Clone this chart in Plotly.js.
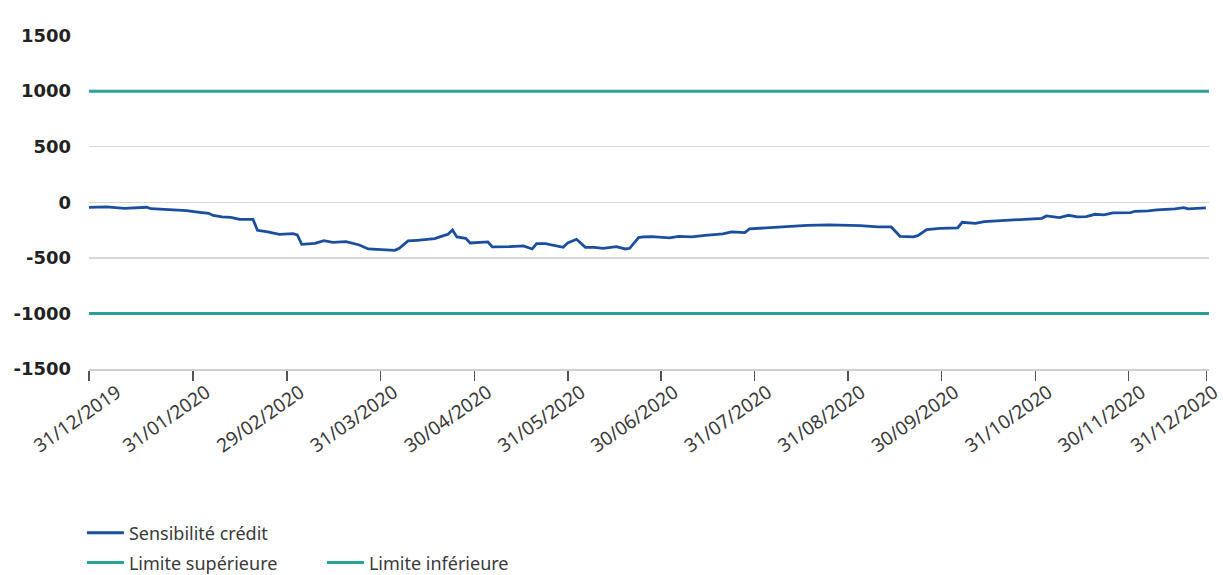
<!DOCTYPE html>
<html>
<head>
<meta charset="utf-8">
<script src="https://cdn.plot.ly/plotly-3.0.1.min.js"></script>
<style>html,body{margin:0;padding:0;background:#fff;}#chart{width:1223px;height:575px;}</style>
</head>
<body>
<div id="chart"></div>
<script>
// trading-session index (x) and credit sensitivity values (y)
const sessions = [0,4,8,13,14,17,20,22,25,27,28,30,32,34,37,38,40,42,43,46,47,48,51,53,55,58,60,61,63,66,69,70,72,74,78,80,81,82,83,85,86,90,91,95,98,100,101,103,107,108,110,112,114,116,119,121,122,124,125,127,131,133,136,139,143,145,148,149,153,156,157,162,167,170,174,178,181,183,186,187,189,192,196,197,200,202,209,211,215,216,219,221,223,225,227,229,231,235,236,239,241,245,247,248,252];
const sensibilite = [-45,-42,-54,-45,-58,-66,-72,-75,-90,-99,-118,-132,-135,-153,-153,-252,-264,-276,-288,-282,-294,-378,-369,-345,-360,-354,-375,-384,-420,-429,-432,-414,-348,-342,-327,-300,-288,-249,-312,-324,-366,-357,-402,-399,-393,-420,-372,-372,-405,-366,-333,-405,-405,-414,-399,-420,-414,-318,-312,-309,-321,-306,-312,-297,-285,-267,-273,-240,-228,-225,-216,-207,-204,-207,-210,-222,-222,-306,-312,-300,-246,-234,-231,-180,-189,-174,-159,-150,-144,-123,-138,-117,-132,-129,-108,-114,-96,-93,-81,-78,-69,-60,-48,-60,-51];
const limiteSup = [1000, 1000];
const limiteInf = [-1000, -1000];
const limitX = [0, 252.7];
const tickPositions = [0,23.5,44.7,65.8,87,108.1,129.1,150.2,171.3,192.4,213.5,234.5,252.1];
const labelPositions = [3.4,23.5,44.7,65.8,87,108.1,129.1,150.2,171.3,192.4,213.5,234.5,250.9];
const tickLabels = ["31/12/2019","31/01/2020","29/02/2020","31/03/2020","30/04/2020","31/05/2020","30/06/2020","31/07/2020","31/08/2020","30/09/2020","31/10/2020","30/11/2020","31/12/2020"];
const yTicks = [-1500,-1000,-500,0,500,1000,1500];
const yTickLabels = ["-1500","-1000","-500","0","500","1000","1500"];

const teal = '#2a9f98';
const blue = '#1a4fa0';
const traces = [
  {x: sessions, y: sensibilite, type:'scatter', mode:'lines', name:'Sensibilité crédit',
   line:{color:blue, width:2.8}, legend:'legend', xaxis:'x', yaxis:'y'},
  {x: limitX, y: limiteSup, type:'scatter', mode:'lines', name:'Limite supérieure',
   line:{color:teal, width:3}, legend:'legend2', xaxis:'x2', yaxis:'y'},
  {x: limitX, y: limiteInf, type:'scatter', mode:'lines', name:'Limite inférieure',
   line:{color:teal, width:3}, legend:'legend2', xaxis:'x2', yaxis:'y'}
];
const legendFont = {family:'Noto Sans, sans-serif', size:18, color:'#3a3a3a'};
const xRange = [0, 252.7];
const layout = {
  width:1223, height:575,
  margin:{l:89, r:14, t:35, b:206, autoexpand:false},
  paper_bgcolor:'#fff', plot_bgcolor:'#fff',
  showlegend:true,
  xaxis:{
    range:xRange, tickmode:'array', tickvals:tickPositions, showticklabels:false,
    ticks:'outside', ticklen:10, tickwidth:1.5, tickcolor:'#555', automargin:false,
    showgrid:false, zeroline:false, showline:true, linecolor:'#cfcfcf', linewidth:1.5
  },
  xaxis2:{
    overlaying:'x', anchor:'y', side:'bottom', range:xRange,
    tickmode:'array', tickvals:labelPositions, ticktext:tickLabels,
    tickangle:-35, ticks:'', ticklabelshift:13, ticklabelstandoff:8,
    ticklabeloverflow:'allow', automargin:false,
    showgrid:false, zeroline:false, showline:false,
    tickfont:{family:'Noto Sans, sans-serif', size:19, color:'#3a3a3a'}
  },
  yaxis:{
    range:[-1500,1505], tickmode:'array', tickvals:yTicks, ticktext:yTickLabels,
    showgrid:true, gridcolor:'#d6d6d6', gridwidth:1.5, zeroline:false, showline:false,
    ticks:'', ticklabelstandoff:17, automargin:false,
    tickfont:{family:'DejaVu Sans, sans-serif', size:18, color:'#222', weight:700}
  },
  legend:{orientation:'h', xref:'container', yref:'container', x:0.067, xanchor:'left',
    y:0.073, yanchor:'middle', font:legendFont,
    bgcolor:'rgba(0,0,0,0)', traceorder:'normal', itemwidth:37},
  legend2:{orientation:'h', xref:'container', yref:'container', x:0.067, xanchor:'left',
    y:0.021, yanchor:'middle', font:legendFont,
    bgcolor:'rgba(0,0,0,0)', entrywidth:188, entrywidthmode:'pixels', traceorder:'normal', itemwidth:37}
};
Plotly.newPlot('chart', traces, layout, {displayModeBar:false, staticPlot:true});
</script>
</body>
</html>
